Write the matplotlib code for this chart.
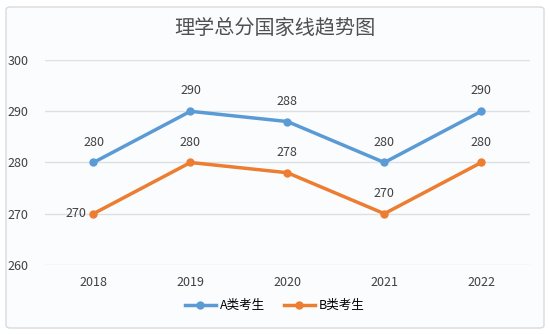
import matplotlib.pyplot as plt
from matplotlib.patches import FancyBboxPatch

plt.rcParams['font.family'] = ['Noto Sans CJK SC', 'DejaVu Sans']

years = ['2018', '2019', '2020', '2021', '2022']
score_a = [280, 290, 288, 280, 290]
score_b = [270, 280, 278, 270, 280]
names = ['A类考生', 'B类考生']

blue = '#5B9BD5'
orange = '#ED7D31'

fig = plt.figure(figsize=(5.49, 3.34), dpi=100)
fig.patch.set_facecolor('white')
# 圆角背景卡片
card = FancyBboxPatch((6 / 549, 6 / 334), 538 / 549, 321 / 334,
                      boxstyle='round,pad=0,rounding_size=0.008',
                      transform=fig.transFigure, fc='#fbfcfe', ec='#d8dade',
                      lw=1, zorder=-5)
fig.patches.append(card)

ax = fig.add_axes([0.082, 0.207, 0.883, 0.613])
ax.set_facecolor('none')
x = list(range(len(years)))
ax.plot(x, score_a, color=blue, lw=2.5, marker='o', ms=5, label=names[0])
ax.plot(x, score_b, color=orange, lw=2.5, marker='o', ms=5, label=names[1])

for i, v in enumerate(score_a):
    ax.annotate(str(v), (i, v), xytext=(0, 10), textcoords='offset points',
                ha='center', va='bottom', fontsize=9, color='#404040')
for i, v in enumerate(score_b):
    if i == 0:
        ax.annotate(str(v), (i, v), xytext=(-13, 0), textcoords='offset points',
                    ha='center', va='center', fontsize=9, color='#404040')
    else:
        ax.annotate(str(v), (i, v), xytext=(0, 10), textcoords='offset points',
                    ha='center', va='bottom', fontsize=9, color='#404040')

ax.set_xlim(-0.5, 4.5)
ax.set_ylim(260, 300)
ax.set_yticks([260, 270, 280, 290, 300])
ax.set_xticks(x)
ax.set_xticklabels(years)
ax.grid(axis='y', color='#dcdfe3', lw=1)
ax.set_axisbelow(True)
for s in ax.spines.values():
    s.set_visible(False)
ax.tick_params(length=0, labelsize=9, colors='#404040')
ax.tick_params(axis='y', pad=12)
ax.tick_params(axis='x', pad=8)

fig.text(0.5, 0.915, '理学总分国家线趋势图', ha='center', va='center',
         fontsize=14.5, color='#505050')
fig.legend(loc='center', bbox_to_anchor=(0.5, 0.085), ncol=2, frameon=False,
           fontsize=9, handlelength=2.5, columnspacing=1.5, handletextpad=0.3)

plt.savefig('out.png', dpi=100, facecolor='white')
